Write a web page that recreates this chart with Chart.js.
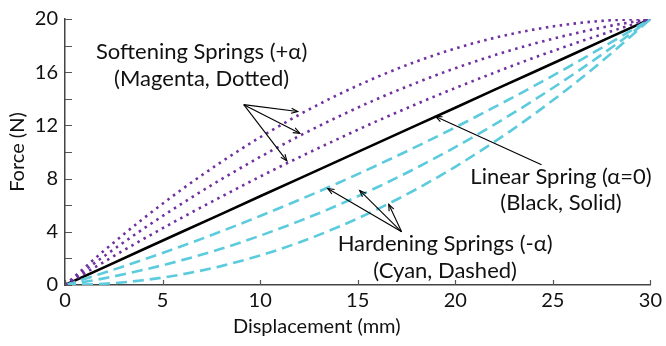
<!DOCTYPE html>
<html>
<head>
<meta charset="utf-8">
<script src="https://cdn.jsdelivr.net/npm/chart.js@4.4.1/dist/chart.umd.min.js"></script>
<style>
  html, body { margin: 0; padding: 0; background: #fff; }
  #wrap { width: 666px; height: 346px; position: relative; }
</style>
</head>
<body>
<div id="wrap"><canvas id="c" width="666" height="346"></canvas></div>
<script>
// ---- data ----
const displacement = [0, 2, 4, 6, 8, 10, 12, 14, 16, 18, 20, 22, 24, 26, 28, 30];
const linearSpring = [0, 1.33, 2.67, 4.0, 5.33, 6.67, 8.0, 9.33, 10.67, 12.0, 13.33, 14.67, 16.0, 17.33, 18.67, 20];
const softening1 = [0, 2.58, 4.98, 7.2, 9.24, 11.11, 12.8, 14.31, 15.64, 16.8, 17.78, 18.58, 19.2, 19.64, 19.91, 20];
const softening2 = [0, 2.16, 4.21, 6.13, 7.94, 9.63, 11.2, 12.65, 13.99, 15.2, 16.3, 17.27, 18.13, 18.87, 19.5, 20];
const softening3 = [0, 1.74, 3.44, 5.07, 6.63, 8.15, 9.6, 10.99, 12.33, 13.6, 14.81, 15.96, 17.07, 18.1, 19.08, 20];
const hardening1 = [0, 0.92, 1.9, 2.93, 4.03, 5.19, 6.4, 7.67, 9.01, 10.4, 11.85, 13.37, 14.93, 16.56, 18.26, 20];
const hardening2 = [0, 0.5, 1.13, 1.87, 2.72, 3.71, 4.8, 6.01, 7.35, 8.8, 10.37, 12.06, 13.87, 15.79, 17.84, 20];
const hardening3 = [0, 0.09, 0.36, 0.8, 1.42, 2.22, 3.2, 4.36, 5.69, 7.2, 8.89, 10.76, 12.8, 15.02, 17.42, 20];

const xTicks = [0, 5, 10, 15, 20, 25, 30];
const yTicks = [0, 4, 8, 12, 16, 20];
const yMinorTicks = [2, 6, 10, 14, 18];

const xTitle = 'Displacement (mm)';
const yTitle = 'Force (N)';

// annotation texts (positions in data units)
const labels = [
  { text: 'Softening Springs (+α)', x: 7.0, y: 17.56 },
  { text: '(Magenta, Dotted)', x: 7.0, y: 15.48 },
  { text: 'Linear Spring (α=0)', x: 25.42, y: 8.15 },
  { text: '(Black, Solid)', x: 25.42, y: 6.15 },
  { text: 'Hardening Springs (-α)', x: 19.48, y: 3.11 },
  { text: '(Cyan, Dashed)', x: 19.48, y: 1.04 }
];
// arrows: from (tail) -> to (head), data units
const arrows = [
  { from: [9.16, 13.56], to: [11.93, 13.04] },
  { from: [9.16, 13.56], to: [12.03, 11.41] },
  { from: [9.16, 13.56], to: [11.37, 9.33] },
  { from: [24.42, 9.04], to: [18.99, 12.67] },
  { from: [17.25, 4.0], to: [13.46, 7.26] },
  { from: [17.25, 4.0], to: [15.10, 7.11] },
  { from: [17.25, 4.0], to: [16.59, 6.07] }
];

const FONT = 'Lato, "Noto Sans", sans-serif';
const PURPLE = '#7030a0';
const CYAN = '#5ccbdd';

function pts(ys) { return displacement.map((x, i) => ({ x: x, y: ys[i] })); }

const softStyle = { borderColor: PURPLE, borderWidth: 2.6, borderDash: [2.5, 4.5], borderCapStyle: 'butt', pointRadius: 0, cubicInterpolationMode: 'monotone', fill: false };
const hardStyle = { borderColor: CYAN, borderWidth: 2.6, borderDash: [11, 6], borderCapStyle: 'butt', pointRadius: 0, cubicInterpolationMode: 'monotone', fill: false };

const overlay = {
  id: 'overlay',
  afterDraw(chart) {
    const ctx = chart.ctx;
    const xs = chart.scales.x, ys = chart.scales.y;
    ctx.save();
    // inward tick marks
    ctx.strokeStyle = '#555';
    ctx.lineWidth = 1.2;
    const x0 = xs.getPixelForValue(0);
    const y0 = ys.getPixelForValue(0);
    ctx.beginPath();
    yTicks.concat(yMinorTicks).forEach(v => {
      const py = Math.round(ys.getPixelForValue(v)) + 0.5;
      ctx.moveTo(x0, py); ctx.lineTo(x0 + 7, py);
    });
    xTicks.forEach(v => {
      const px = Math.round(xs.getPixelForValue(v)) + 0.5;
      ctx.moveTo(px, y0); ctx.lineTo(px, y0 - 5);
    });
    ctx.stroke();

    // arrows
    ctx.strokeStyle = '#000';
    ctx.lineWidth = 1.1;
    arrows.forEach(a => {
      const fx = xs.getPixelForValue(a.from[0]), fy = ys.getPixelForValue(a.from[1]);
      const tx = xs.getPixelForValue(a.to[0]), ty = ys.getPixelForValue(a.to[1]);
      const ang = Math.atan2(ty - fy, tx - fx);
      ctx.beginPath();
      ctx.moveTo(fx, fy); ctx.lineTo(tx, ty);
      ctx.stroke();
      const L = 7, w = 0.38;
      ctx.beginPath();
      ctx.moveTo(tx - L * Math.cos(ang - w), ty - L * Math.sin(ang - w));
      ctx.lineTo(tx, ty);
      ctx.lineTo(tx - L * Math.cos(ang + w), ty - L * Math.sin(ang + w));
      ctx.stroke();
    });

    // annotation texts
    ctx.fillStyle = '#111';
    ctx.font = '22px ' + FONT;
    ctx.textAlign = 'center';
    ctx.textBaseline = 'middle';
    labels.forEach(l => {
      ctx.fillText(l.text, xs.getPixelForValue(l.x), ys.getPixelForValue(l.y));
    });

    // axis titles
    ctx.font = '20px ' + FONT;
    ctx.fillText(xTitle, xs.getPixelForValue(12.9), 327);
    ctx.translate(18, (ys.top + ys.bottom) / 2);
    ctx.rotate(-Math.PI / 2);
    ctx.fillText(yTitle, 0, 0);
    ctx.restore();
  }
};

new Chart(document.getElementById('c'), {
  type: 'line',
  data: {
    datasets: [
      Object.assign({ label: 'Softening 1', data: pts(softening1) }, softStyle),
      Object.assign({ label: 'Softening 2', data: pts(softening2) }, softStyle),
      Object.assign({ label: 'Softening 3', data: pts(softening3) }, softStyle),
      Object.assign({ label: 'Hardening 1', data: pts(hardening1) }, hardStyle),
      Object.assign({ label: 'Hardening 2', data: pts(hardening2) }, hardStyle),
      Object.assign({ label: 'Hardening 3', data: pts(hardening3) }, hardStyle),
      { label: 'Linear', data: pts(linearSpring), borderColor: '#000', borderWidth: 2.6, pointRadius: 0, tension: 0, fill: false }
    ]
  },
  options: {
    responsive: false,
    animation: false,
    devicePixelRatio: 1,
    layout: { padding: { left: 0, right: 15, top: 15, bottom: 0 } },
    plugins: { legend: { display: false }, tooltip: { enabled: false } },
    scales: {
      x: {
        type: 'linear', min: 0, max: 30,
        afterBuildTicks: s => { s.ticks = xTicks.map(v => ({ value: v })); },
        afterFit: s => { s.height = 61; },
        grid: { display: true, drawOnChartArea: false, drawTicks: false },
        border: { display: true, color: '#444', width: 1.5 },
        ticks: { color: '#111', font: { family: FONT, size: 20 }, padding: 4, maxRotation: 0, autoSkip: false }
      },
      y: {
        type: 'linear', min: 0, max: 20,
        afterBuildTicks: s => { s.ticks = yTicks.map(v => ({ value: v })); },
        afterFit: s => { s.width = 65; },
        grid: { display: true, drawOnChartArea: false, drawTicks: false },
        border: { display: true, color: '#444', width: 1.5 },
        ticks: { color: '#111', font: { family: FONT, size: 20 }, padding: 7, autoSkip: false }
      }
    }
  },
  plugins: [overlay]
});
</script>
</body>
</html>
